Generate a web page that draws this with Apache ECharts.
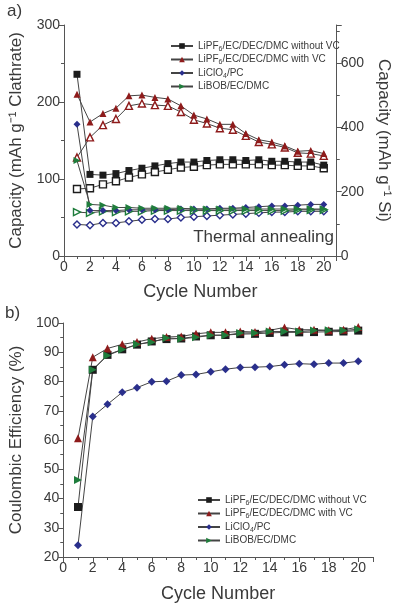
<!DOCTYPE html>
<html><head><meta charset="utf-8">
<script src="https://cdn.jsdelivr.net/npm/echarts@6/dist/echarts.min.js"></script>
<style>html,body{margin:0;padding:0;background:#fff}#c{width:400px;height:608px}</style>
</head><body><div id="c"></div>
<script>
var cycles = [1,2,3,4,5,6,7,8,9,10,11,12,13,14,15,16,17,18,19,20];
var seriesNames = ['LiPF6/EC/DEC/DMC without VC','LiPF6/EC/DEC/DMC with VC','LiClO4/PC','LiBOB/EC/DMC'];
// Panel a) capacity (mAh/g clathrate): filled and open markers
var capNoVCFilled = [236,106,105,107,111,114,117,120,122,122,124,125,125,124,125,123,123,122,122,118];
var capNoVCOpen   = [87,88,93,97,102,106,109,112,115,116,118,119,119,119,119,118,118,117,117,114];
var capVCFilled   = [210,174,185,192,208,209,206,204,195,183,178,171,171,159,151,148,143,136,137,133];
var capVCOpen     = [128,154,170,178,195,198,196,195,187,177,172,166,164,156,148,145,141,134,133,130];
var capClO4Filled = [171,59,59,59,60,60,60,60,61,61,61,62,62,63,64,65,65,66,67,67];
var capClO4Open   = [41,40,43,43,45,47,48,48,50,51,52,53,54,55,56,57,57,58,58,58];
var capBOBFilled  = [124,67,66,63,63,62,62,62,62,61,61,61,61,61,61,61,61,61,61,61];
var capBOBOpen    = [57,56,58,57,58,58,59,59,59,59,59,59,59,59,59,59,59,60,60,60];
// Panel b) coulombic efficiency (%)
var ceNoVC = [37.1,84,89.1,91,92.6,93.7,94.5,94.7,95.4,95.8,95.9,96.2,96.3,96.6,96.8,96.8,96.9,97,97.1,97.4];
var ceVC   = [60.6,88.3,91.3,92.7,93.5,94.6,95.2,95.4,96.3,96.8,96.8,97.1,96.9,97.5,98.5,97.7,97.7,97.5,97.7,98.6];
var ceClO4 = [24,68,72.2,76.3,77.9,79.9,80.1,82.2,82.4,83.3,84.2,84.8,84.9,85.1,85.7,86.1,85.9,86.3,86.3,86.9];
var ceBOB  = [46.3,84,88.9,90.9,92.7,93.4,94.9,94.6,95.1,95.8,95.8,96.6,96.6,97.1,97.1,97.1,97.4,97.5,97.4,97.9];

var colors = ['#1c1c1c','#8e1b1b','#2a2f8c','#1f7d3c'];
var filledSym = ['rect','triangle','diamond','triangle'];
var rot = [0,0,0,-90];
var FONT = 'Liberation Sans, Arial, sans-serif';
var TXT = '#3a3a3a';

function pairs(arr){ return cycles.map(function(c,i){ return [c, arr[i]]; }); }

var series = [];
var topFilled = [capNoVCFilled, capVCFilled, capClO4Filled, capBOBFilled];
var topOpen = [capNoVCOpen, capVCOpen, capClO4Open, capBOBOpen];
var bottom = [ceNoVC, ceVC, ceClO4, ceBOB];
for (var i=0;i<4;i++){
  series.push({name: seriesNames[i]+' (charge)', type:'line', xAxisIndex:0, yAxisIndex:0, data: pairs(topOpen[i]),
    symbol: filledSym[i], symbolRotate: rot[i], symbolSize: 7, showSymbol:true,
    lineStyle:{color:'#444', width:1}, itemStyle:{color:'#fff', borderColor:colors[i], borderWidth:1.4}, z: 2});
}
for (var i=0;i<4;i++){
  series.push({name: seriesNames[i], type:'line', xAxisIndex:0, yAxisIndex:0, data: pairs(topFilled[i]),
    symbol: filledSym[i], symbolRotate: rot[i], symbolSize: 7,
    lineStyle:{color:'#444', width:1}, itemStyle:{color:colors[i]}, z: 3});
}
for (var i=0;i<4;i++){
  series.push({name: seriesNames[i], type:'line', xAxisIndex:1, yAxisIndex:2, data: pairs(bottom[i]),
    symbol: filledSym[i], symbolRotate: rot[i], symbolSize: 8,
    lineStyle:{color:'#444', width:1}, itemStyle:{color:colors[i]}, z: 3});
}

function legendFmt(n){ return n.replace('LiPF6','LiPF{s|6}').replace('LiClO4','LiClO{s|4}'); }
var legendText = {fontFamily: FONT, fontSize: 10, color:TXT, rich:{s:{fontSize:7, padding:[6,0,0,0], fontFamily: FONT, color:TXT}}};

var axisLine = {show:true, lineStyle:{color:'#555', width:1}};
var axisTick = {show:true, inside:false, length:5, lineStyle:{color:'#555'}};
var minorTick = {show:true, splitNumber:2, length:3, lineStyle:{color:'#555'}};
var axisLabel = {fontFamily: FONT, fontSize: 14, color:TXT, margin:4};
var nameText = {fontFamily: FONT, fontSize: 17, color:TXT};

var option = {
  animation:false,
  backgroundColor:'#fff',
  grid:[
    {left:62, top:25, width:281, height:231},
    {left:60, top:323, width:313, height:234}
  ],
  xAxis:[
    {gridIndex:0, type:'value', min:0, max:21, interval:2, axisLine:axisLine, axisTick:axisTick, minorTick:minorTick,
      axisLabel:Object.assign({}, axisLabel, {showMaxLabel:false}), splitLine:{show:false},
      name:'Cycle Number', nameLocation:'middle', nameGap:27, nameTextStyle:Object.assign({}, nameText, {fontSize:18})},
    {gridIndex:1, type:'value', min:0, max:21, interval:2, axisLine:axisLine, axisTick:axisTick, minorTick:minorTick,
      axisLabel:Object.assign({}, axisLabel, {showMaxLabel:false}), splitLine:{show:false},
      name:'Cycle Number', nameLocation:'middle', nameGap:28, nameTextStyle:Object.assign({}, nameText, {fontSize:18})}
  ],
  yAxis:[
    {gridIndex:0, type:'value', min:0, max:300, interval:100, axisLine:axisLine, axisTick:axisTick, minorTick:minorTick,
      axisLabel:axisLabel, splitLine:{show:false},
      name:'Capacity (mAh g\u207B\u00B9 Clathrate)', nameLocation:'middle', nameGap:39, nameTextStyle:nameText},
    {gridIndex:0, type:'value', position:'right', min:0, max:718, interval:200, axisLine:axisLine, axisTick:axisTick, minorTick:minorTick,
      axisLabel:Object.assign({}, axisLabel, {showMaxLabel:false}), splitLine:{show:false},
      name:'Capacity (mAh g\u207B\u00B9 Si)', nameLocation:'middle', nameGap:35, nameRotate:-90, nameTextStyle:nameText},
    {gridIndex:1, type:'value', min:20, max:100, interval:10, axisLine:axisLine, axisTick:axisTick, minorTick:minorTick,
      axisLabel:axisLabel, splitLine:{show:false},
      name:'Coulombic Efficiency (%)', nameLocation:'middle', nameGap:35, nameTextStyle:nameText}
  ],
  legend:[
    {data: seriesNames, orient:'vertical', left:165, top:36, itemWidth:22, itemHeight:7, itemGap:2,
      formatter: legendFmt, textStyle: legendText},
    {data: seriesNames, orient:'vertical', left:192, top:490, itemWidth:22, itemHeight:7, itemGap:2,
      formatter: legendFmt, textStyle: legendText}
  ],
  graphic:[
    {type:'text', left:7, top:3, style:{text:'a)', font:'17px '+FONT, fill:TXT}},
    {type:'text', left:5, top:305, style:{text:'b)', font:'17px '+FONT, fill:TXT}},
    {type:'text', right:66, top:229, style:{text:'Thermal annealing', font:'17px '+FONT, fill:TXT}}
  ],
  series: series
};
var chart = echarts.init(document.getElementById('c'), null, {renderer:'canvas'});
chart.setOption(option);
</script>
</body></html>
